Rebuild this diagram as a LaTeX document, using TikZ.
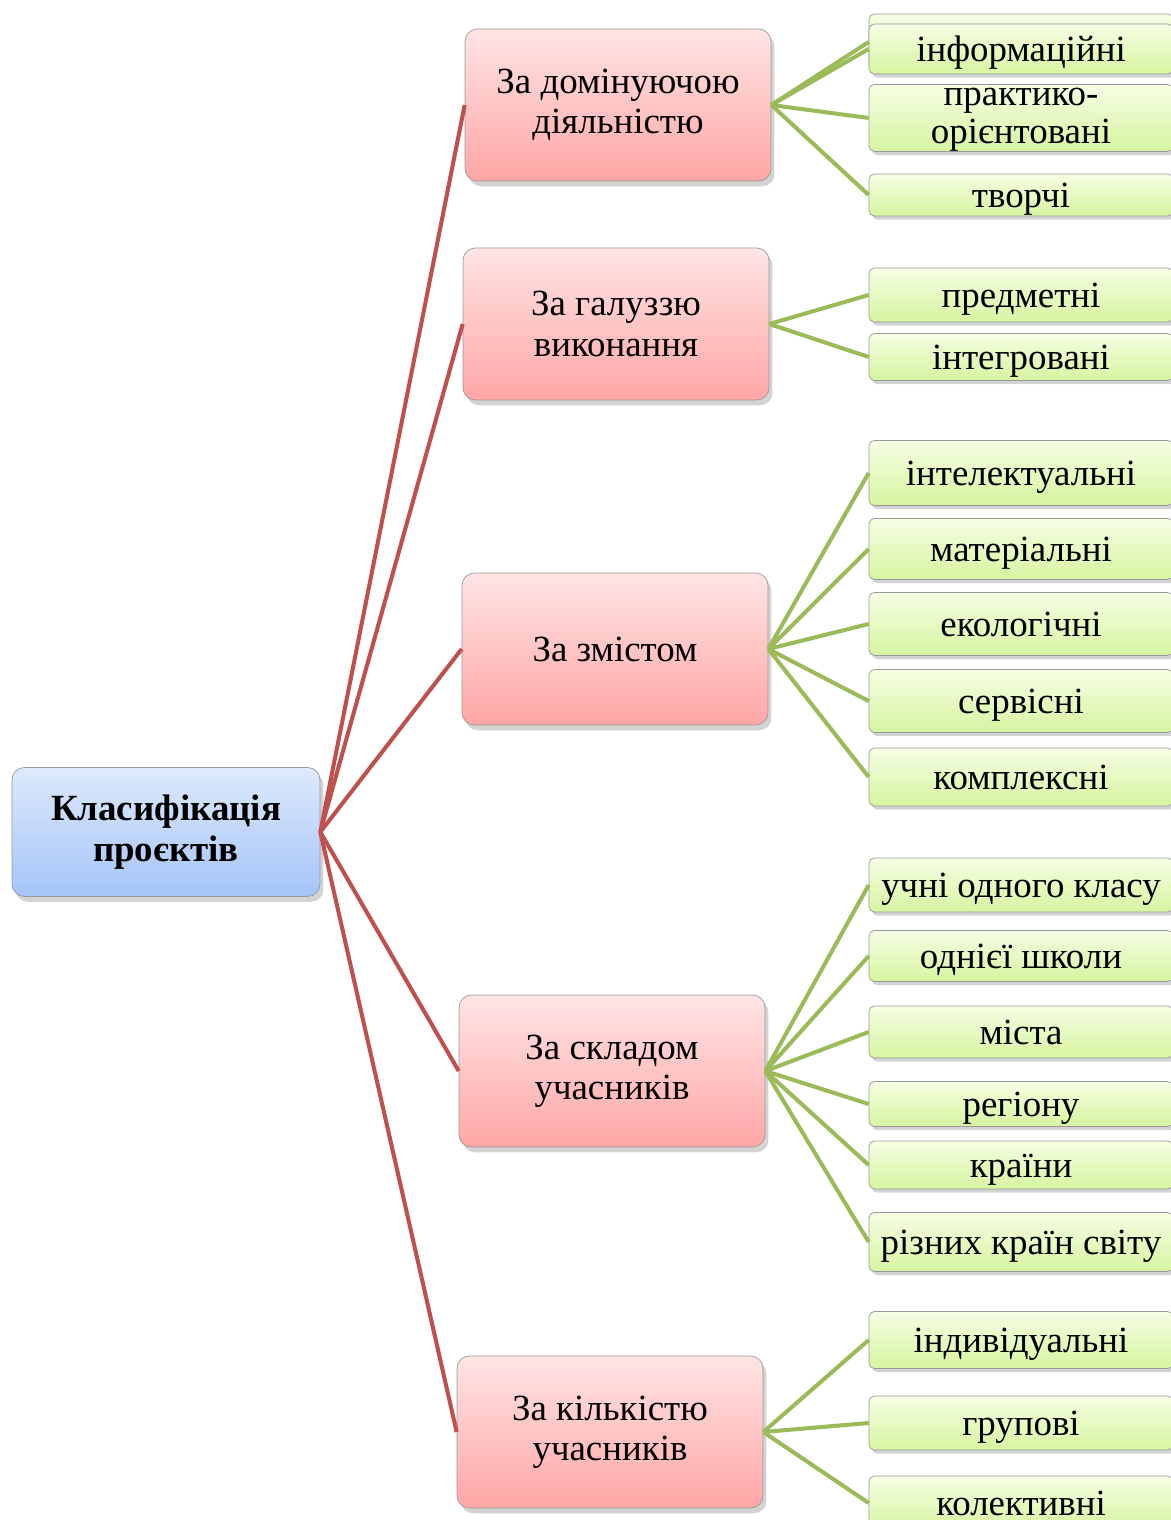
\documentclass[tikz,border=0pt]{standalone}
\usepackage{fontspec}
\setmainfont{Liberation Serif}
\usetikzlibrary{shadows}
\definecolor{linkred}{HTML}{C0504D}
\definecolor{linkgreen}{HTML}{9BBB59}
\tikzset{
    x=0.02cm, y=-0.02cm, % one unit is one pixel of the layout
    }

\begin{document}
\begin{tikzpicture}[
rootnode/.style={rectangle, rounded corners=7pt, draw=black!40, thin, top color={rgb,255:red,222;green,234;blue,253}, bottom color={rgb,255:red,164;green,196;blue,248}, minimum width=6.16cm, minimum height=2.58cm, align=center, font=\fontsize{21}{23.5}\selectfont\bfseries, drop shadow={opacity=0.35, shadow xshift=2pt, shadow yshift=-3pt}},
groupnode/.style={rectangle, rounded corners=7pt, draw=black!40, thin, top color={rgb,255:red,255;green,228;blue,228}, bottom color={rgb,255:red,255;green,166;blue,166}, minimum width=6.12cm, minimum height=3.04cm, align=center, font=\fontsize{21}{23}\selectfont, drop shadow={opacity=0.35, shadow xshift=2pt, shadow yshift=-3pt}},
leafnode/.style={rectangle, rounded corners=3pt, draw=black!40, thin, top color={rgb,255:red,246;green,254;blue,228}, bottom color={rgb,255:red,214;green,245;blue,160}, minimum width=6.08cm, inner sep=0pt, text height=18.9pt, text depth=4.6pt, align=center, font=\fontsize{21}{21.5}\selectfont, drop shadow={opacity=0.35, shadow xshift=1.5pt, shadow yshift=-2pt}},
redlink/.style={draw=linkred, line width=2.3pt},
greenlink/.style={draw=linkgreen, line width=2.3pt},
]
\useasboundingbox (0,0) rectangle (1170,1520);

\node[rootnode] (root) at (166,832) {Класифікація\\проєктів};

\node[groupnode] (activity) at (618,105) {За домінуючою\\діяльністю};
\node[groupnode] (field) at (616,324) {За галуззю\\виконання};
\node[groupnode] (content) at (615,649) {За змістом};
\node[groupnode] (members) at (612,1071) {За складом\\учасників};
\node[groupnode] (count) at (610,1432) {За кількістю\\учасників};

% leaves of the first group
\node[leafnode, minimum height=1.12cm] (hidden) at (1021,42) {};
\node[leafnode, minimum height=1.0cm] (info) at (1021,49) {інформаційні};
\node[leafnode, minimum height=1.34cm, text height=, text depth=] (practice) at (1021,118) {\rule{0pt}{12pt}практико-\\орієнтовані};
\node[leafnode, minimum height=0.84cm] (creative) at (1021,195) {творчі};
% leaves of the second group
\node[leafnode, minimum height=1.08cm] (subject) at (1021,295) {предметні};
\node[leafnode, minimum height=0.94cm] (integrated) at (1021,357) {інтегровані};
% leaves of the third group
\node[leafnode, minimum height=1.3cm] (intellect) at (1021,473) {інтелектуальні};
\node[leafnode, minimum height=1.22cm] (material) at (1021,549) {матеріальні};
\node[leafnode, minimum height=1.26cm] (ecology) at (1021,624) {екологічні};
\node[leafnode, minimum height=1.26cm] (service) at (1021,701) {сервісні};
\node[leafnode, minimum height=1.16cm] (complex) at (1021,777) {комплексні};
% leaves of the fourth group
\node[leafnode, minimum height=1.08cm] (class) at (1021,885) {учні одного класу};
\node[leafnode, minimum height=1.02cm] (school) at (1021,956) {однієї школи};
\node[leafnode, minimum height=1.04cm] (city) at (1021,1032) {міста};
\node[leafnode, minimum height=0.9cm] (region) at (1021,1104) {регіону};
\node[leafnode, minimum height=0.96cm] (country) at (1021,1165) {країни};
\node[leafnode, minimum height=1.18cm] (world) at (1021,1242) {різних країн світу};
% leaves of the fifth group
\node[leafnode, minimum height=1.14cm] (single) at (1021,1340) {індивідуальні};
\node[leafnode, minimum height=1.08cm] (group) at (1021,1423) {групові};
\node[leafnode, minimum height=1.08cm] (collective) at (1021,1503) {колективні};

\draw[redlink] (root.east) -- (activity.west);
\draw[redlink] (root.east) -- (field.west);
\draw[redlink] (root.east) -- (content.west);
\draw[redlink] (root.east) -- (members.west);
\draw[redlink] (root.east) -- (count.west);

\draw[greenlink] (activity.east) -- (hidden.west);
\draw[greenlink] (activity.east) -- (info.west);
\draw[greenlink] (activity.east) -- (practice.west);
\draw[greenlink] (activity.east) -- (creative.west);
\draw[greenlink] (field.east) -- (subject.west);
\draw[greenlink] (field.east) -- (integrated.west);
\draw[greenlink] (content.east) -- (intellect.west);
\draw[greenlink] (content.east) -- (material.west);
\draw[greenlink] (content.east) -- (ecology.west);
\draw[greenlink] (content.east) -- (service.west);
\draw[greenlink] (content.east) -- (complex.west);
\draw[greenlink] (members.east) -- (class.west);
\draw[greenlink] (members.east) -- (school.west);
\draw[greenlink] (members.east) -- (city.west);
\draw[greenlink] (members.east) -- (region.west);
\draw[greenlink] (members.east) -- (country.west);
\draw[greenlink] (members.east) -- (world.west);
\draw[greenlink] (count.east) -- (single.west);
\draw[greenlink] (count.east) -- (group.west);
\draw[greenlink] (count.east) -- (collective.west);
\end{tikzpicture}
\end{document}
